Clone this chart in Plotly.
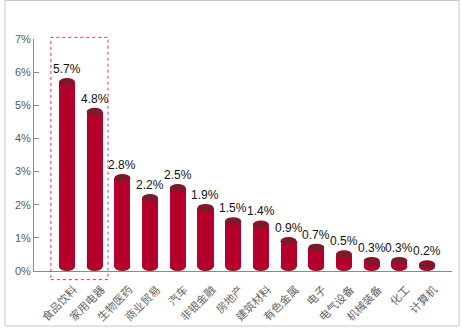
import plotly.graph_objects as go

categories = ["食品饮料", "家用电器", "生物医药", "商业贸易", "汽车", "非银金融", "房地产",
              "建筑材料", "有色金属", "电子", "电气设备", "机械装备", "化工", "计算机"]
values = [5.7, 4.8, 2.8, 2.2, 2.5, 1.9, 1.5, 1.4, 0.9, 0.7, 0.5, 0.3, 0.3, 0.2]
y_ticks = [0, 1, 2, 3, 4, 5, 6, 7]
y_ticktext = [f"{t}%" for t in y_ticks]
highlight = [0, 1]

W, H = 462, 328
L, R, T, B = 34, 10, 39, 57
pw, ph = W - L - R, H - T - B
x_range = [-1.19, 13.9]
y_range = [0, 7]

BODY = "#b5002c"
TOP = "#7b1a2b"
eh = 0.125  # ellipse half height (y units)
hw = 0.29   # half width (x units)

xs = list(range(len(categories)))

fig = go.Figure()
fig.add_trace(go.Bar(
    x=xs, y=[v - eh for v in values], base=[eh] * len(values),
    width=2 * hw, marker=dict(color=BODY, line=dict(width=0)),
    hoverinfo="skip", showlegend=False,
))

shapes = []
for x, v in zip(xs, values):
    shapes.append(dict(type="circle", xref="x", yref="y", layer="below",
                       x0=x - hw, x1=x + hw, y0=0, y1=2 * eh,
                       fillcolor=BODY, line=dict(width=0)))
    shapes.append(dict(type="circle", xref="x", yref="y", layer="above",
                       x0=x - hw, x1=x + hw, y0=v - eh, y1=v + eh,
                       fillcolor=TOP, line=dict(width=0)))

def px_x(xv):
    return (xv - x_range[0]) / (x_range[1] - x_range[0])

def px_y(yv):
    return (yv - y_range[0]) / (y_range[1] - y_range[0])

# highlight box around first two categories
shapes.append(dict(type="rect", xref="paper", yref="paper",
                   x0=px_x(min(highlight) - 0.58), x1=px_x(max(highlight) + 0.48),
                   y0=px_y(-0.26), y1=px_y(7.05),
                   line=dict(color="#dc2f62", width=1, dash="3px,3px"),
                   fillcolor="rgba(0,0,0,0)"))

# outer border
shapes.append(dict(type="rect", xref="paper", yref="paper",
                   x0=(5 - L) / pw, x1=(459 - L) / pw,
                   y0=(T + ph - 326) / ph, y1=(T + ph - 0.5) / ph,
                   line=dict(color="#c8c8c8", width=1),
                   fillcolor="rgba(0,0,0,0)"))

annotations = []
for x, v in zip(xs, values):
    annotations.append(dict(x=x, y=v + eh, xref="x", yref="y", text=f"{v:.1f}%",
                            showarrow=False, yanchor="bottom", xanchor="center",
                            font=dict(size=12, color="#111",
                                      family="Liberation Sans Narrow, Arial Narrow, sans-serif")))

fig.update_layout(
    width=W, height=H,
    margin=dict(l=L, r=R, t=T, b=B, autoexpand=False),
    paper_bgcolor="white", plot_bgcolor="white",
    shapes=shapes, annotations=annotations,
    bargap=0,
    xaxis=dict(range=x_range, tickvals=xs, ticktext=categories, tickangle=-45,
               showline=True, linecolor="#8a8a8a", linewidth=1, showgrid=False,
               zeroline=False, ticks="", fixedrange=True, automargin=False,
               ticklabelshift=7, ticklabelstandoff=7,
               tickfont=dict(size=11, color="#666", family="Noto Sans CJK SC")),
    yaxis=dict(range=y_range, tickvals=y_ticks, ticktext=y_ticktext,
               showline=True, linecolor="#8a8a8a", linewidth=1, showgrid=False,
               zeroline=False, ticks="inside", ticklen=5, tickcolor="#8a8a8a",
               automargin=False,
               tickfont=dict(size=11, color="#5a5a5a",
                             family="Liberation Sans Narrow, Arial Narrow, sans-serif")),
    font=dict(family="Noto Sans CJK SC"),
)

fig.write_html("out.html")
